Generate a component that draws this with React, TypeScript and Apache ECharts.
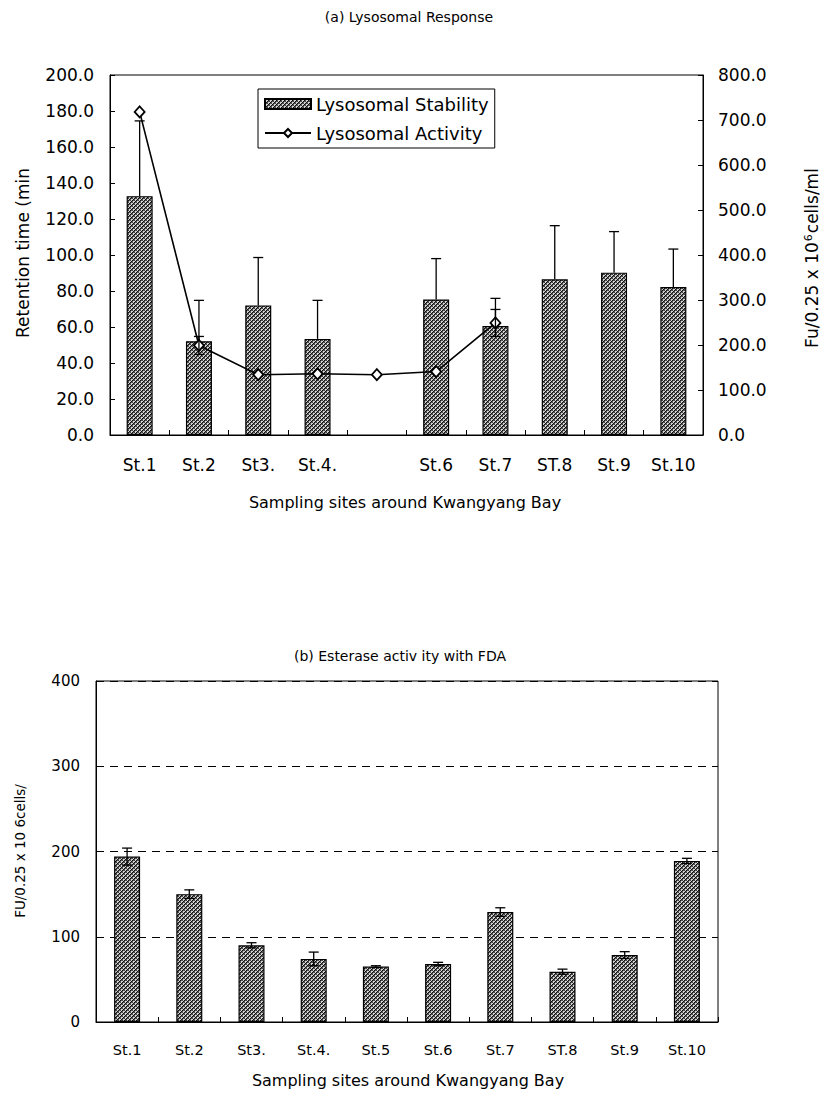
import React, { useEffect, useRef } from 'react';
import * as echarts from 'echarts';

// ---- data: (a) Lysosomal Response ----
const sitesA = ['St.1', 'St.2', 'St3.', 'St.4.', '', 'St.6', 'St.7', 'ST.8', 'St.9', 'St.10'];
const stabilityMean = [132.7, 52.1, 72.0, 53.4, null, 75.3, 60.5, 86.5, 90.2, 82.2];
const stabilityErr = [41.8, 22.7, 26.6, 21.4, null, 22.7, 15.4, 29.8, 22.8, 21.1];
const activityMean = [718, 199, 134, 136, 134, 141, 249, null, null, null];
const activityErr = [0, 20, 0, 0, 0, 0, 30, null, null, null];
const leftMaxA = 200;
const leftStepA = 20;
const rightMaxA = 800;
const rightStepA = 100;

// ---- data: (b) Esterase activity with FDA ----
const sitesB = ['St.1', 'St.2', 'St3.', 'St.4.', 'St.5', 'St.6', 'St.7', 'ST.8', 'St.9', 'St.10'];
const esteraseMean = [194, 150, 90, 74, 65, 68, 129, 59, 78.5, 189];
const esteraseErr = [10, 5, 3, 8, 1, 2, 5, 3, 4, 3];
const maxB = 400;
const stepB = 100;

const FONT = 'DejaVu Sans';

function makeHatch() {
  const c = document.createElement('canvas');
  c.width = 4;
  c.height = 4;
  const ctx = c.getContext('2d')!;
  for (let y = 0; y < 4; y++) {
    for (let x = 0; x < 4; x++) {
      let col = '#d4d4d4';
      if ((x + y) % 4 === 0) col = '#111';
      else if ((x + y) % 4 === 1) col = '#555';
      else if ((x - y + 8) % 4 === 2) col = '#444';
      ctx.fillStyle = col;
      ctx.fillRect(x, y, 1, 1);
    }
  }
  return c;
}

function errRender(both: boolean) {
  return (params: any, api: any) => {
    const i = api.value(0);
    const v = api.value(1);
    const e = api.value(2);
    const top = api.coord([i, v + e]);
    const base = api.coord([i, both ? v - e : v]);
    const hw = 5;
    const st = { stroke: '#000', lineWidth: 1.3 };
    const children: any[] = [
      { type: 'line', shape: { x1: top[0], y1: top[1], x2: base[0], y2: base[1] }, style: st },
      { type: 'line', shape: { x1: top[0] - hw, y1: top[1], x2: top[0] + hw, y2: top[1] }, style: st },
    ];
    if (both) {
      children.push({ type: 'line', shape: { x1: base[0] - hw, y1: base[1], x2: base[0] + hw, y2: base[1] }, style: st });
    }
    return { type: 'group', children };
  };
}

export default function App() {
  const ref = useRef<HTMLDivElement>(null);
  useEffect(() => {
    const chart = echarts.init(ref.current!, null, { renderer: 'svg' });
    const hatch = { image: makeHatch(), repeat: 'repeat' } as any;

    const stabErrData = stabilityMean
      .map((v, i) => (v == null ? null : [i, v, stabilityErr[i]]))
      .filter((d) => d != null);
    const actErrData = activityMean
      .map((v, i) => (v == null || !activityErr[i] ? null : [i, v, activityErr[i]]))
      .filter((d) => d != null);
    const estErrData = esteraseMean.map((v, i) => [i, v, esteraseErr[i]]);

    const axisLine = { show: true, lineStyle: { color: '#000', width: 1 } };
    const tickLabel = (size: number) => ({ color: '#000', fontFamily: FONT, fontSize: size });

    const option: any = {
      animation: false,
      backgroundColor: '#fff',
      grid: [
        { left: 110, top: 75, width: 593, height: 360, show: true, borderColor: '#000', borderWidth: 1 },
        { left: 96, top: 681, width: 622, height: 341, show: true, borderColor: '#000', borderWidth: 1 },
      ],
      legend: {
        orient: 'vertical',
        left: 258,
        top: 89,
        padding: [6, 6],
        itemGap: 11,
        itemWidth: 46,
        itemHeight: 10,
        borderColor: '#000',
        borderWidth: 1,
        borderRadius: 0,
        backgroundColor: '#fff',
        textStyle: { color: '#000', fontFamily: FONT, fontSize: 18 },
        data: [
          { name: 'Lysosomal Stability', icon: 'rect' },
          { name: 'Lysosomal Activity' },
        ],
      },
      xAxis: [
        {
          type: 'category',
          gridIndex: 0,
          data: sitesA,
          axisLine,
          axisTick: { show: true, inside: true, length: 5, lineStyle: { color: '#000' } },
          axisLabel: { ...tickLabel(17), margin: 21, interval: 0 },
        },
        {
          type: 'category',
          gridIndex: 1,
          data: sitesB,
          axisLine,
          axisTick: { show: true, inside: true, length: 5, lineStyle: { color: '#000' } },
          axisLabel: { ...tickLabel(14.5), margin: 20, interval: 0 },
        },
      ],
      yAxis: [
        {
          type: 'value',
          gridIndex: 0,
          min: 0,
          max: leftMaxA,
          interval: leftStepA,
          axisLine,
          axisTick: { show: true, inside: true, length: 5, lineStyle: { color: '#000' } },
          axisLabel: { ...tickLabel(17), margin: 16, formatter: (v: number) => v.toFixed(1) },
          splitLine: { show: false },
        },
        {
          type: 'value',
          gridIndex: 0,
          position: 'right',
          min: 0,
          max: rightMaxA,
          interval: rightStepA,
          axisLine,
          axisTick: { show: true, inside: true, length: 5, lineStyle: { color: '#000' } },
          axisLabel: { ...tickLabel(17), margin: 15, formatter: (v: number) => v.toFixed(1) },
          splitLine: { show: false },
        },
        {
          type: 'value',
          gridIndex: 1,
          min: 0,
          max: maxB,
          interval: stepB,
          axisLine,
          axisTick: { show: false },
          axisLabel: { ...tickLabel(15), margin: 16 },
          splitLine: { show: true, lineStyle: { color: '#000', type: [8, 6], width: 1 } },
        },
      ],
      series: [
        {
          name: 'Lysosomal Stability',
          type: 'bar',
          xAxisIndex: 0,
          yAxisIndex: 0,
          data: stabilityMean.map((v) => (v == null ? '-' : v)),
          barWidth: 26,
          itemStyle: { color: hatch, borderColor: '#000', borderWidth: 1.2 },
          z: 2,
        },
        {
          name: 'stabErr',
          type: 'custom',
          xAxisIndex: 0,
          yAxisIndex: 0,
          data: stabErrData,
          encode: { x: 0, y: 1 },
          renderItem: errRender(false),
          z: 4,
          silent: true,
        },
        {
          name: 'Lysosomal Activity',
          type: 'line',
          xAxisIndex: 0,
          yAxisIndex: 1,
          data: activityMean.map((v) => (v == null ? '-' : v)),
          symbol: 'diamond',
          symbolSize: [10, 11],
          showAllSymbol: true,
          lineStyle: { color: '#000', width: 1.6 },
          itemStyle: { color: '#fff', borderColor: '#000', borderWidth: 1.8 },
          z: 6,
        },
        {
          name: 'actErr',
          type: 'custom',
          xAxisIndex: 0,
          yAxisIndex: 1,
          data: actErrData,
          encode: { x: 0, y: 1 },
          renderItem: errRender(true),
          z: 7,
          silent: true,
        },
        {
          name: 'Esterase',
          type: 'bar',
          xAxisIndex: 1,
          yAxisIndex: 2,
          data: esteraseMean,
          barWidth: 26,
          itemStyle: { color: hatch, borderColor: '#000', borderWidth: 1.2 },
          z: 2,
        },
        {
          name: 'estErr',
          type: 'custom',
          xAxisIndex: 1,
          yAxisIndex: 2,
          data: estErrData,
          encode: { x: 0, y: 1 },
          renderItem: errRender(true),
          z: 4,
          silent: true,
        },
      ],
      graphic: [
        {
          type: 'text', x: 409, y: 17,
          style: { text: '(a) Lysosomal Response', fill: '#000', font: `14px "${FONT}"`, align: 'center', verticalAlign: 'middle' },
        },
        {
          type: 'text', x: 405, y: 502,
          style: { text: 'Sampling sites around Kwangyang Bay', fill: '#000', font: `16px "${FONT}"`, align: 'center', verticalAlign: 'middle' },
        },
        {
          type: 'text', x: 23, y: 253, rotation: Math.PI / 2,
          style: { text: 'Retention time (min', fill: '#000', font: `17px "${FONT}"`, align: 'center', verticalAlign: 'middle' },
        },
        {
          type: 'text', x: 812, y: 258, rotation: Math.PI / 2,
          style: {
            text: 'Fu/0.25 x 10{sup|6}cells/ml',
            fill: '#000',
            fontFamily: FONT,
            fontSize: 17,
            align: 'center',
            verticalAlign: 'middle',
            rich: {
              sup: { fontFamily: FONT, fontSize: 11, verticalAlign: 'top', padding: [0, 1, 8, 1], fill: '#000' },
            },
          },
        },
        {
          type: 'text', x: 400, y: 656,
          style: { text: '(b) Esterase activ ity with FDA', fill: '#000', font: `14px "${FONT}"`, align: 'center', verticalAlign: 'middle' },
        },
        {
          type: 'text', x: 20, y: 851, rotation: Math.PI / 2,
          style: { text: 'FU/0.25 x 10 6cells/', fill: '#000', font: `13.5px "${FONT}"`, align: 'center', verticalAlign: 'middle' },
        },
        {
          type: 'text', x: 408, y: 1080,
          style: { text: 'Sampling sites around Kwangyang Bay', fill: '#000', font: `16px "${FONT}"`, align: 'center', verticalAlign: 'middle' },
        },
      ],
    };
    chart.setOption(option);
    return () => chart.dispose();
  }, []);
  return <div ref={ref} style={{ position: 'absolute', left: 0, top: 0, width: 831, height: 1105 }} />;
}
